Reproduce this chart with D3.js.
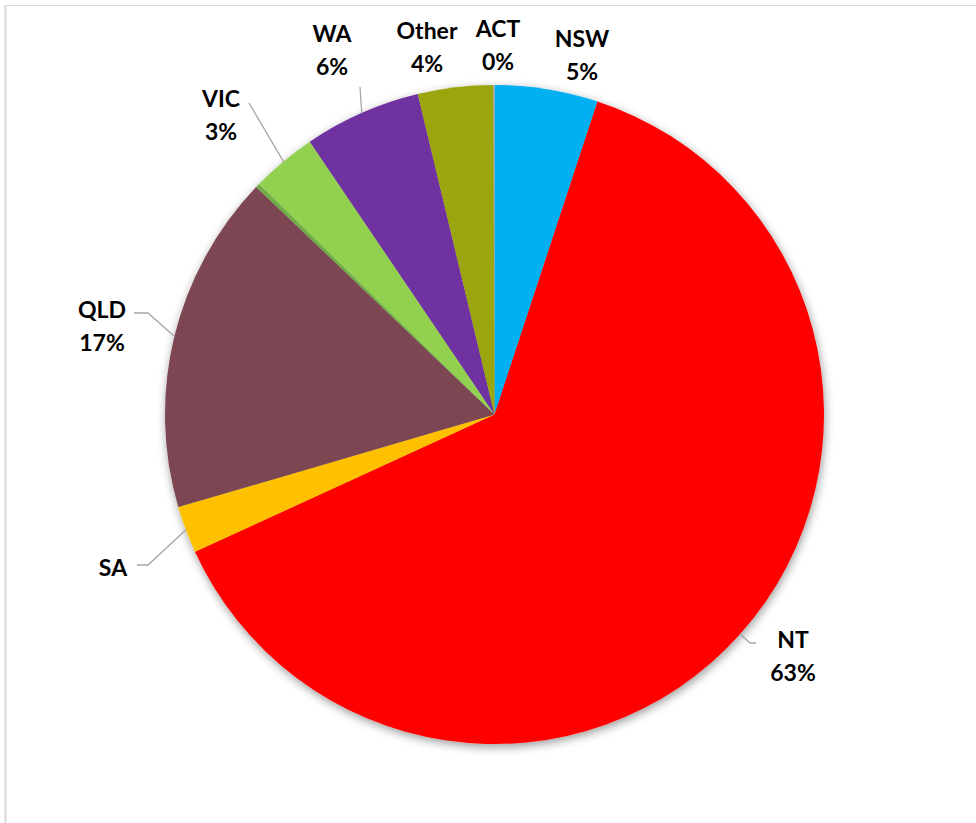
<!DOCTYPE html>
<html>
<head>
<meta charset="utf-8">
<script src="https://cdn.jsdelivr.net/npm/d3@7"></script>
<style>
  html, body { margin: 0; padding: 0; background: #fff; }
  svg { display: block; }
  text { font-family: Lato, "Open Sans", sans-serif; font-weight: 700; }
</style>
</head>
<body>
<script>
// ---- data ----
const categories = ["NSW", "NT", "SA", "QLD", "TAS", "VIC", "WA", "Other", "ACT"];
const values     = [5.06, 63.09, 2.31, 16.66, 0.2, 3.2, 5.73, 3.69, 0.05];
const colors     = ["#00B0F0", "#FF0000", "#FFC000", "#7B4652", "#70AD47", "#92D050", "#7030A0", "#9BA50E", "#A5A5A5"];
// which labels are shown, and whether the percentage line appears
const showLabel   = [true, true, true, true, false, true, true, true, true];
const showPercent = [true, true, false, true, false, true, true, true, true];

// ---- layout (label placement, leader-line bends) ----
const labelLayout = {
  NSW:   { x: 582, y: 47 },
  ACT:   { x: 498, y: 37 },
  Other: { x: 427, y: 39 },
  WA:    { x: 332, y: 41.5, leader: [[360, 87]] },
  VIC:   { x: 221, y: 107,  leader: [[249, 103]] },
  QLD:   { x: 102, y: 318,  leader: [[148, 313], [134, 313]] },
  SA:    { x: 113, y: 576,  leader: [[148, 565], [137, 565]] },
  NT:    { x: 793, y: 648,  leader: [[750, 643], [756, 643]] }
};
const lineGap = 33;

const W = 976, H = 823;
const cx = 494.5, cy = 414.5, R = 329.5;

const svg = d3.select("body").append("svg").attr("width", W).attr("height", H);

// frame
svg.append("line").attr("x1", 5).attr("x2", 976).attr("y1", 5.5).attr("y2", 5.5)
  .attr("stroke", "#d9d9d9").attr("stroke-width", 1);
svg.append("line").attr("x1", 5.5).attr("x2", 5.5).attr("y1", 5).attr("y2", 823)
  .attr("stroke", "#d9d9d9").attr("stroke-width", 2);

const defs = svg.append("defs");
const f = defs.append("filter").attr("id", "shadow")
  .attr("x", "-10%").attr("y", "-10%").attr("width", "120%").attr("height", "120%");
f.append("feDropShadow").attr("dx", 1).attr("dy", 3).attr("stdDeviation", 5)
  .attr("flood-color", "#000").attr("flood-opacity", 0.4);

const data = categories.map((c, i) => ({ cat: c, value: values[i], color: colors[i], i }));
const total = d3.sum(values);
const pct = d3.format(".0%");

const pie = d3.pie().value(d => d.value).sort(null);
const arcs = pie(data);
const arc = d3.arc().innerRadius(0).outerRadius(R);

const g = svg.append("g").attr("transform", `translate(${cx},${cy})`);
g.append("g").attr("filter", "url(#shadow)")
  .selectAll("path").data(arcs).join("path")
  .attr("d", arc)
  .attr("fill", d => d.data.color);

// leader lines
const lg = svg.append("g");
arcs.forEach(a => {
  const L = labelLayout[a.data.cat];
  if (!showLabel[a.data.i] || !L || !L.leader) return;
  const mid = (a.startAngle + a.endAngle) / 2;
  const p0 = [cx + (R - 0.5) * Math.sin(mid), cy - (R - 0.5) * Math.cos(mid)];
  const pts = [p0, ...L.leader];
  lg.append("path")
    .attr("d", d3.line()(pts))
    .attr("fill", "none")
    .attr("stroke", "#a6a6a6")
    .attr("stroke-width", 1.3);
});

// labels
const labG = svg.append("g");
arcs.forEach(a => {
  const i = a.data.i;
  if (!showLabel[i]) return;
  const L = labelLayout[a.data.cat];
  const grp = labG.append("g");
  const t = grp.append("text")
    .attr("text-anchor", "middle")
    .attr("font-size", 23)
    .attr("fill", "#000");
  t.append("tspan").attr("x", L.x).attr("y", L.y).text(a.data.cat);
  if (showPercent[i]) {
    t.append("tspan").attr("x", L.x).attr("y", L.y + lineGap).text(pct(a.data.value / total));
  }
  const bb = t.node().getBBox();
  grp.insert("rect", "text")
    .attr("x", bb.x - 3).attr("y", bb.y - 2)
    .attr("width", bb.width + 6).attr("height", bb.height + 2)
    .attr("fill", "#fff");
});
</script>
</body>
</html>
